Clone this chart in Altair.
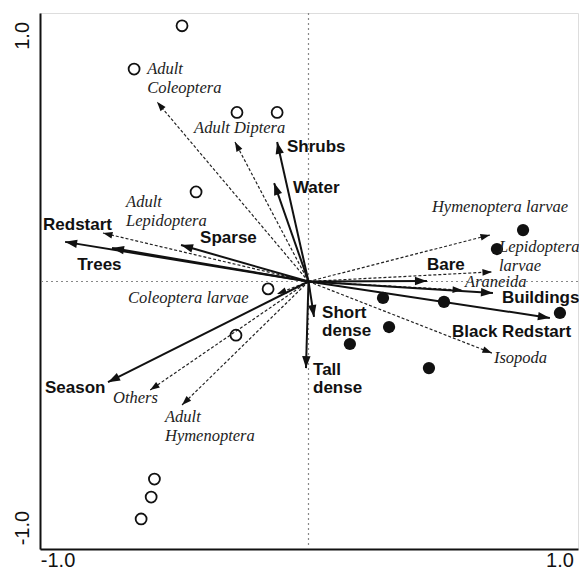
import math
import altair as alt
import pandas as pd

# ---------------- data ----------------
# explanatory variables (solid arrows)
env_names = ["Redstart", "Trees", "Sparse", "Shrubs", "Water", "Bare", "Buildings",
             "Black Redstart", "Short dense", "Tall dense", "Season"]
env_x = [-0.970, -0.783, -0.508, -0.125, -0.137, 0.472, 0.735, 0.962, 0.022, -0.010, -0.799]
env_y = [0.161, 0.136, 0.148, 0.567, 0.400, 0.002, -0.047, -0.148, -0.144, -0.352, -0.409]
env_labels = ["Redstart", "Trees", "Sparse", "Shrubs", "Water", "Bare", "Buildings",
              "Black Redstart", "Short\ndense", "Tall\ndense", "Season"]
env_label_x = [-1.058, -0.922, -0.432, -0.086, -0.062, 0.472, 0.771, 0.572, 0.054, 0.018, -1.050]
env_label_y = [0.230, 0.067, 0.177, 0.547, 0.380, 0.067, -0.067, -0.205, -0.128, -0.360, -0.433]

# prey taxa (dashed arrows)
sp_names = ["Adult Coleoptera", "Adult Diptera", "Adult Lepidoptera", "Hymenoptera larvae",
            "Lepidoptera larvae", "Araneida", "Isopoda", "Coleoptera larvae", "Others",
            "Adult Hymenoptera"]
sp_x = [-0.604, -0.293, -0.819, 0.723, 0.731, 0.612, 0.731, -0.125, -0.631, -0.504]
sp_y = [0.730, 0.567, 0.197, 0.189, 0.039, -0.035, -0.291, -0.051, -0.441, -0.502]
sp_labels = ["Adult\nColeoptera", "Adult Diptera", "Adult\nLepidoptera", "Hymenoptera larvae",
             "Lepidoptera\nlarvae", "Araneida", "Isopoda", "Coleoptera larvae", "Others",
             "Adult\nHymenoptera"]
sp_label_x = [-0.643, -0.456, -0.727, 0.492, 0.759, 0.624, 0.739, -0.719, -0.779, -0.572]
sp_label_y = [0.864, 0.624, 0.323, 0.303, 0.140, -0.002, -0.311, -0.067, -0.474, -0.551]

# samples: Redstart (open) and Black Redstart (filled)
open_x = [-0.504, -0.695, -0.285, -0.125, -0.448, -0.161, -0.289, -0.614, -0.627, -0.667]
open_y = [1.039, 0.863, 0.687, 0.687, 0.364, -0.030, -0.218, -0.803, -0.876, -0.965]
filled_x = [0.855, 0.751, 0.297, 0.540, 1.002, 0.321, 0.165, 0.480]
filled_y = [0.209, 0.132, -0.067, -0.083, -0.128, -0.185, -0.254, -0.352]

tick_values = [-1.0, 1.0]
tick_labels = ["-1.0", "1.0"]

# ---------------- layout ----------------
W, H = 538, 536
XDOM = [-1.070, 1.074]
YDOM = [-1.087, 1.091]
sx = W / (XDOM[1] - XDOM[0])
sy = H / (YDOM[1] - YDOM[0])


def angle(dx, dy):
    return (90 - math.degrees(math.atan2(dy * sy, dx * sx))) % 360


env = pd.DataFrame({"name": env_names, "x": env_x, "y": env_y,
                    "x0": [0.0] * len(env_x), "y0": [0.0] * len(env_x)})
env["ang"] = [angle(a, b) for a, b in zip(env_x, env_y)]
sp = pd.DataFrame({"name": sp_names, "x": sp_x, "y": sp_y,
                   "x0": [0.0] * len(sp_x), "y0": [0.0] * len(sp_x)})
sp["ang"] = [angle(a, b) for a, b in zip(sp_x, sp_y)]
env_lab = pd.DataFrame({"t": env_labels, "x": env_label_x, "y": env_label_y})
sp_lab = pd.DataFrame({"t": sp_labels, "x": sp_label_x, "y": sp_label_y})
opn = pd.DataFrame({"x": open_x, "y": open_y})
fil = pd.DataFrame({"x": filled_x, "y": filled_y})
zero = pd.DataFrame({"v": [0.0]})

label_expr = " : ".join(
    f"datum.value == {v} ? '{l}'" for v, l in zip(tick_values[:-1], tick_labels[:-1])
) + f" : '{tick_labels[-1]}'"

xs = alt.Scale(domain=XDOM, nice=False, zero=False)
ys = alt.Scale(domain=YDOM, nice=False, zero=False)
xax = alt.Axis(values=tick_values, labelExpr=label_expr, title=None, grid=False, ticks=False,
               tickSize=0, labelFontSize=20, labelFont="Liberation Sans", labelColor="#111",
               labelPadding=17, labelBaseline="alphabetic", domainColor="#111", domainWidth=2,
               labelFlush=False)
yax = alt.Axis(values=tick_values, labelExpr=label_expr, title=None, grid=False, ticks=False,
               tickSize=0, labelFontSize=20, labelFont="Liberation Sans", labelColor="#111",
               labelPadding=8, labelAngle=270, labelAlign="center", labelBaseline="bottom",
               domainColor="#111", domainWidth=2, labelFlush=False)

X = lambda f="x": alt.X(f"{f}:Q", scale=xs, axis=xax)
Y = lambda f="y": alt.Y(f"{f}:Q", scale=ys, axis=yax)

vline = alt.Chart(zero).mark_rule(color="#888", strokeDash=[2, 3], strokeWidth=1.2).encode(
    x=alt.X("v:Q", scale=xs, axis=xax))
hline = alt.Chart(zero).mark_rule(color="#888", strokeDash=[2, 3], strokeWidth=1.2).encode(
    y=alt.Y("v:Q", scale=ys, axis=yax))

head = "M0,0L-0.7,2L0.7,2Z"

sp_lines = alt.Chart(sp).mark_rule(color="#222", strokeWidth=1.2, strokeDash=[3, 2]).encode(
    x=X("x0"), y=Y("y0"), x2="x:Q", y2="y:Q")
sp_heads = alt.Chart(sp).mark_point(shape=head, filled=True, color="#111", opacity=1,
                                    size=90).encode(
    x=X(), y=Y(), angle=alt.Angle("ang:Q", scale=None))
env_lines = alt.Chart(env).mark_rule(color="#111", strokeWidth=2).encode(
    x=X("x0"), y=Y("y0"), x2="x:Q", y2="y:Q")
env_heads = alt.Chart(env).mark_point(shape=head, filled=True, color="#111", opacity=1,
                                      size=144).encode(
    x=X(), y=Y(), angle=alt.Angle("ang:Q", scale=None))

open_pts = alt.Chart(opn).mark_point(shape="circle", filled=False, color="#111", size=120,
                                     strokeWidth=1.8, opacity=1).encode(x=X(), y=Y())
filled_pts = alt.Chart(fil).mark_point(shape="circle", filled=True, color="#111", size=150,
                                       opacity=1).encode(x=X(), y=Y())

env_text = alt.Chart(env_lab).mark_text(align="left", baseline="middle", font="Liberation Sans",
                                        fontWeight="bold", fontSize=17, color="#111",
                                        lineBreak="\n", lineHeight=18).encode(
    x=X(), y=Y(), text="t:N")
sp_text = alt.Chart(sp_lab).mark_text(align="left", baseline="middle", font="Liberation Serif",
                                      fontStyle="italic", fontSize=16.5, color="#222",
                                      lineBreak="\n", lineHeight=19).encode(
    x=X(), y=Y(), text="t:N")

chart = alt.layer(vline, hline, sp_lines, env_lines, sp_heads, env_heads, open_pts, filled_pts,
                  env_text, sp_text).properties(
    width=W, height=H,
    autosize=alt.AutoSizeParams(type="none"),
    padding={"left": 32, "top": 5, "right": 1, "bottom": 19},
).configure_view(stroke=None).configure(background="white")

chart.save("out.html", embed_options={"renderer": "svg", "actions": False})
